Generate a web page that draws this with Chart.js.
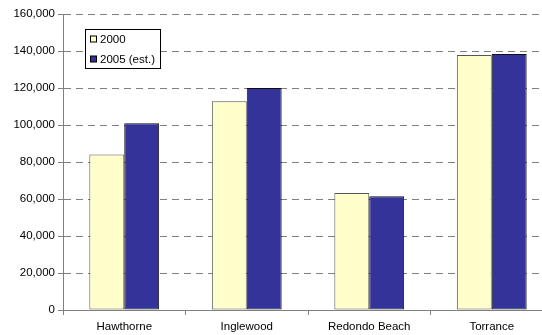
<!DOCTYPE html>
<html>
<head>
<meta charset="utf-8">
<script src="https://cdn.jsdelivr.net/npm/chart.js@4/dist/chart.umd.min.js"></script>
<style>
  html, body { margin: 0; padding: 0; background: #fff; overflow: hidden; }
  #wrap { position: relative; width: 553px; height: 335px; }
</style>
</head>
<body>
<div id="wrap"><canvas id="c"></canvas></div>
<script>
// Population by city
const cities = ['Hawthorne', 'Inglewood', 'Redondo Beach', 'Torrance'];
const pop2000 = [84000, 112800, 63300, 137900];
const pop2005 = [101000, 120000, 61500, 138400];
const seriesNames = ['2000', '2005 (est.)'];

const FONT = 'Arial, "Liberation Sans", Helvetica, sans-serif';

// Boxed legend in the upper-left of the plot
const boxLegend = {
  id: 'boxLegend',
  afterDraw(chart) {
    const ctx = chart.ctx;
    const a = chart.chartArea;
    const x = Math.round(a.left) + 22.5, y = Math.round(a.top) + 15.5, w = 75, h = 39;
    ctx.save();
    ctx.fillStyle = '#fff';
    ctx.fillRect(x, y, w, h);
    ctx.strokeStyle = '#000';
    ctx.lineWidth = 1;
    ctx.strokeRect(x, y, w, h);
    ctx.font = '11.5px ' + FONT;
    ctx.textBaseline = 'middle';
    chart.data.datasets.forEach((ds, i) => {
      const cy = y + 10 + i * 20;
      ctx.fillStyle = ds.backgroundColor;
      ctx.fillRect(x + 5, cy - 3.5, 6, 6);
      ctx.strokeStyle = '#000';
      ctx.strokeRect(x + 5, cy - 3.5, 6, 6);
      ctx.fillStyle = '#000';
      ctx.fillText(ds.label, x + 14.5, cy);
    });
    ctx.restore();
  }
};

new Chart(document.getElementById('c'), {
  type: 'bar',
  data: {
    labels: cities,
    datasets: [
      {
        label: seriesNames[0],
        data: pop2000,
        backgroundColor: '#FFFFCC',
        borderColor: '#555555',
        borderWidth: 1,
        borderSkipped: false
      },
      {
        label: seriesNames[1],
        data: pop2005,
        backgroundColor: '#333399',
        borderColor: '#111111',
        borderWidth: 1,
        borderSkipped: false
      }
    ]
  },
  options: {
    responsive: true,
    maintainAspectRatio: false,
    animation: false,
    events: [],
    categoryPercentage: 0.57,
    barPercentage: 1.0,
    layout: { padding: { top: 14, right: 0, bottom: 0, left: 0 } },
    plugins: {
      legend: { display: false },
      tooltip: { enabled: false }
    },
    scales: {
      x: {
        offset: true,
        grid: {
          offset: true,
          drawOnChartArea: false,
          drawTicks: true,
          tickLength: 5,
          tickColor: '#808080'
        },
        border: { display: true, color: '#808080', width: 1 },
        ticks: {
          color: '#000',
          font: { family: FONT, size: 11.5 },
          padding: 5,
          maxRotation: 0,
          autoSkip: false
        },
        afterFit(scale) { scale.height = 25; }
      },
      y: {
        min: 0,
        max: 160000,
        grid: {
          color: (c) => (c.tick && c.tick.value === 0 ? 'rgba(0,0,0,0)' : '#808080'),
          lineWidth: 1,
          drawTicks: true,
          tickLength: 5,
          tickColor: '#808080'
        },
        border: { display: true, color: '#808080', width: 1, dash: [7, 5] },
        ticks: {
          stepSize: 20000,
          color: '#000',
          font: { family: FONT, size: 11.5 },
          padding: 3,
          callback: (v) => v.toLocaleString('en-US')
        },
        afterFit(scale) { scale.width = 63; }
      }
    }
  },
  plugins: [boxLegend]
});
</script>
</body>
</html>
